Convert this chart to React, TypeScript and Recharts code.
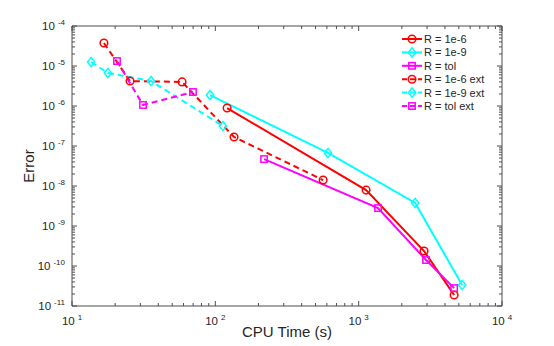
import { LineChart, Line, XAxis, YAxis, Legend, Label } from 'recharts';

// values (CPU time in s, error)
const r6Time = [120.8, 1127, 2858, 4634];
const r6Err = [8.9e-7, 7.9e-9, 2.37e-10, 1.88e-11];
const r9Time = [91.8, 611, 2478, 5272];
const r9Err = [1.88e-6, 6.7e-8, 3.76e-9, 3.35e-11];
const tolTime = [218.8, 1365, 2951, 4634];
const tolErr = [4.7e-8, 2.8e-9, 1.41e-10, 2.8e-11];
const r6ExtTime = [16.7, 25.4, 58.6, 135, 565];
const r6ExtErr = [3.76e-5, 4.2e-6, 4.0e-6, 1.68e-7, 1.41e-8];
const r9ExtTime = [13.6, 17.8, 35.6, 113];
const r9ExtErr = [1.26e-5, 6.7e-6, 4.2e-6, 3.16e-7];
const tolExtTime = [20.6, 31.3, 69.8];
const tolExtErr = [1.33e-5, 1.06e-6, 2.24e-6];

const xDecades = [1, 2, 3, 4];
const yDecades = [-11, -10, -9, -8, -7, -6, -5, -4];
const minorSteps = [2, 3, 4, 5, 6, 7, 8, 9];

const RED = '#FF0000';
const CYAN = '#00FFFF';
const MAGENTA = '#FF00FF';
const AXIS = '#4d4d4d';
const TEXT = '#262626';
const FONT = '"Liberation Sans", Arial, Helvetica, sans-serif';

const W = 554;
const H = 346;

type Pt = { x: number; y: number };
const toPoints = (xs: number[], ys: number[]): Pt[] => xs.map((x, i) => ({ x, y: ys[i] }));

const buildTicks = (decades: number[]) => {
  const out: number[] = [];
  decades.forEach((d, i) => {
    out.push(Math.pow(10, d));
    if (i < decades.length - 1) minorSteps.forEach((m) => out.push(m * Math.pow(10, d)));
  });
  return out;
};

const xTicks = buildTicks(xDecades);
const yTicks = buildTicks(yDecades);

type Shape = 'circle' | 'diamond' | 'square';

function Marker({ cx, cy, shape, color }: { cx: number; cy: number; shape: Shape; color: string }) {
  if (shape === 'circle') return <circle cx={cx} cy={cy} r={3.8} fill="none" stroke={color} strokeWidth={1.5} />;
  if (shape === 'diamond') {
    const d = 4.6;
    return (
      <polygon
        points={`${cx},${cy - d} ${cx + d * 0.8},${cy} ${cx},${cy + d} ${cx - d * 0.8},${cy}`}
        fill="none"
        stroke={color}
        strokeWidth={1.5}
      />
    );
  }
  return <rect x={cx - 3.2} y={cy - 3.2} width={6.4} height={6.4} fill="none" stroke={color} strokeWidth={1.5} />;
}

const dotFor = (shape: Shape, color: string) => (props: any) => {
  const { cx, cy, index } = props;
  return <Marker key={`m-${shape}-${color}-${index}`} cx={cx} cy={cy} shape={shape} color={color} />;
};

const isDecade = (v: number) => {
  const e = Math.log10(v);
  return Math.abs(e - Math.round(e)) < 1e-6;
};

// MATLAB-style inward ticks, labels as 10^k
const makeTick = (side: 'bottom' | 'top' | 'left' | 'right') => (props: any) => {
  const { x, y, payload } = props;
  const v = payload.value as number;
  const major = isDecade(v);
  const len = major ? 5 : 3;
  const exp = Math.round(Math.log10(v));
  let line;
  if (side === 'bottom') line = <line x1={x} y1={y} x2={x} y2={y - len} stroke={AXIS} />;
  else if (side === 'top') line = <line x1={x} y1={y} x2={x} y2={y + len} stroke={AXIS} />;
  else if (side === 'left') line = <line x1={x} y1={y} x2={x + len} y2={y} stroke={AXIS} />;
  else line = <line x1={x} y1={y} x2={x - len} y2={y} stroke={AXIS} />;
  let label = null;
  if (major && side === 'bottom') {
    label = (
      <text x={x} y={y + 19} textAnchor="middle" fontFamily={FONT} fontSize={11.5} fill={TEXT}>
        <tspan>10</tspan>
        <tspan dx={3} dy={-5} fontSize={8}>{exp}</tspan>
      </text>
    );
  }
  if (major && side === 'left') {
    label = (
      <text x={x - 7} y={y + 4} textAnchor="end" fontFamily={FONT} fontSize={11.5} fill={TEXT}>
        <tspan>10</tspan>
        <tspan dx={3} dy={-5} fontSize={8}>{exp}</tspan>
      </text>
    );
  }
  return (
    <g>
      {line}
      {label}
    </g>
  );
};

const series = [
  { name: 'R = 1e-6', data: toPoints(r6Time, r6Err), color: RED, shape: 'circle' as Shape, dashed: false },
  { name: 'R = 1e-9', data: toPoints(r9Time, r9Err), color: CYAN, shape: 'diamond' as Shape, dashed: false },
  { name: 'R = tol', data: toPoints(tolTime, tolErr), color: MAGENTA, shape: 'square' as Shape, dashed: false },
  { name: 'R = 1e-6 ext', data: toPoints(r6ExtTime, r6ExtErr), color: RED, shape: 'circle' as Shape, dashed: true },
  { name: 'R = 1e-9 ext', data: toPoints(r9ExtTime, r9ExtErr), color: CYAN, shape: 'diamond' as Shape, dashed: true },
  { name: 'R = tol ext', data: toPoints(tolExtTime, tolExtErr), color: MAGENTA, shape: 'square' as Shape, dashed: true },
];

function LegendBox() {
  const rowH = 13.4;
  return (
    <svg width={120} height={84} style={{ display: 'block' }}>
      {series.map((s, i) => {
        const cy = 6 + i * rowH;
        return (
          <g key={s.name}>
            <line x1={2} y1={cy} x2={22} y2={cy} stroke={s.color} strokeWidth={2} strokeDasharray={s.dashed ? '5 3' : undefined} />
            <Marker cx={12} cy={cy} shape={s.shape} color={s.color} />
            <text x={24} y={cy + 4} fontFamily={FONT} fontSize={11} fill={TEXT}>
              {s.name}
            </text>
          </g>
        );
      })}
    </svg>
  );
}

const axisCommon = {
  type: 'number' as const,
  scale: 'log' as const,
  allowDataOverflow: true,
  interval: 0 as const,
  tickSize: 0,
  tickMargin: 0,
  tickLine: false,
  axisLine: { stroke: AXIS },
};

export default function App() {
  return (
    <div style={{ position: 'absolute', left: 0, top: 0, width: W, height: H, background: '#fff' }}>
      <LineChart width={W} height={H} margin={{ top: 0, right: 0, bottom: 0, left: 0 }}>
        <XAxis {...axisCommon} dataKey="x" domain={[10, 10000]} ticks={xTicks} height={40} tick={makeTick('bottom')}>
          <Label
            content={(p: any) => {
              const vb = p.viewBox;
              return (
                <text x={vb.x + vb.width / 2} y={vb.y + 31} textAnchor="middle" fontFamily={FONT} fontSize={15} fill={TEXT}>
                  CPU Time (s)
                </text>
              );
            }}
          />
        </XAxis>
        <XAxis
          {...axisCommon}
          xAxisId="t"
          orientation="top"
          dataKey="x"
          domain={[10, 10000]}
          ticks={xTicks}
          height={26}
          tick={makeTick('top')}
        />
        <YAxis {...axisCommon} domain={[1e-11, 1e-4]} ticks={yTicks} width={72} tick={makeTick('left')}>
          <Label
            content={(p: any) => {
              const vb = p.viewBox;
              const cx = vb.x + vb.width - 42;
              const cy = vb.y + vb.height / 2;
              return (
                <text x={cx} y={cy} transform={`rotate(-90 ${cx} ${cy})`} textAnchor="middle" dominantBaseline="middle" fontFamily={FONT} fontSize={15} fill={TEXT}>
                  Error
                </text>
              );
            }}
          />
        </YAxis>
        <YAxis
          {...axisCommon}
          yAxisId="r"
          orientation="right"
          domain={[1e-11, 1e-4]}
          ticks={yTicks}
          width={52}
          tick={makeTick('right')}
        />
        <Legend
          layout="vertical"
          align="center"
          verticalAlign="middle"
          content={() => <LegendBox />}
          wrapperStyle={{ left: 400, top: 33, width: 120, height: 84 }}
        />
        {series.map((s) => (
          <Line
            key={s.name}
            name={s.name}
            data={s.data}
            dataKey="y"
            type="linear"
            stroke={s.color}
            strokeWidth={2}
            strokeDasharray={s.dashed ? '6 4' : undefined}
            dot={dotFor(s.shape, s.color)}
            activeDot={false}
            isAnimationActive={false}
          />
        ))}
      </LineChart>
    </div>
  );
}
